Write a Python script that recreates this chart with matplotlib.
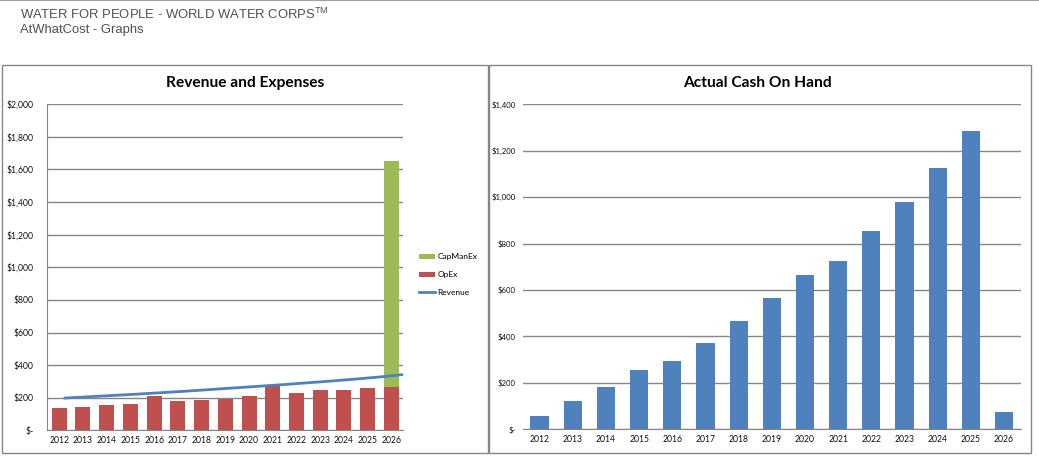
import matplotlib
matplotlib.use("Agg")
import matplotlib.pyplot as plt
import numpy as np
from matplotlib.patches import Rectangle
from matplotlib.lines import Line2D

years = ["2012", "2013", "2014", "2015", "2016", "2017", "2018", "2019",
         "2020", "2021", "2022", "2023", "2024", "2025", "2026"]
opex = [135, 142, 154, 160, 209, 178, 185, 191, 209, 271, 228, 246, 246, 258, 265]
capmanex = [0, 0, 0, 0, 0, 0, 0, 0, 0, 0, 0, 0, 0, 0, 1390]
revenue = [198, 206, 214, 222, 231, 240, 250, 260, 270, 280, 291, 302, 314, 327, 342]
cash = [57, 122, 182, 256, 294, 372, 467, 566, 665, 725, 853, 978, 1124, 1283, 75]

left_ticks = list(range(0, 2001, 200))
right_ticks = list(range(0, 1401, 200))

W, H = 1039, 461
fig = plt.figure(figsize=(W / 100, H / 100), dpi=100)

TICKFONT = "Lato"
GRID = "#868686"
C_OPEX = "#C0504D"
C_CAP = "#9BBB59"
C_BLUE = "#4F81BD"


def fx(px):
    return px / W


def fy(py):
    return 1 - py / H


def money(v):
    return "$-" if v == 0 else "${:,.0f}".format(v)


# top rule
fig.add_artist(Line2D([0, 1], [fy(0.5), fy(0.5)], transform=fig.transFigure,
                      color="#a0a0a0", lw=1.5))
# header
fig.text(fx(20), fy(14), "WATER FOR PEOPLE - WORLD WATER CORPS$^{\\mathregular{TM}}$",
         family="Liberation Sans", fontsize=9.4, color="#505050", va="center", ha="left")
fig.text(fx(20), fy(30), "AtWhatCost - Graphs",
         family="Liberation Sans", fontsize=9.4, color="#505050", va="center", ha="left")

# panel boxes
for (x0, y0, x1, y1) in [(2, 65, 488, 453), (489, 65, 1031, 453)]:
    fig.add_artist(Rectangle((fx(x0), fy(y1)), fx(x1) - fx(x0), fy(y0) - fy(y1),
                             transform=fig.transFigure, fill=False,
                             edgecolor=GRID, lw=1))

x = np.arange(len(years))

# ---------- left chart ----------
axl = fig.add_axes([fx(47.3), fy(430.3), fx(403.3) - fx(47.3), fy(104.3) - fy(430.3)])
axl.bar(x, opex, width=0.63, color=C_OPEX, label="OpEx", zorder=2)
axl.bar(x, capmanex, width=0.63, bottom=opex, color=C_CAP, label="CapManEx", zorder=2)
xr = np.linspace(0.25, 14.5, len(revenue))
axl.plot(xr, revenue, color=C_BLUE, lw=2, label="Revenue", zorder=3)
axl.set_xlim(-0.5, len(years) - 0.5)
axl.set_ylim(0, 2000)
axl.set_yticks(left_ticks)
axl.set_yticklabels([money(v) for v in left_ticks])
axl.set_xticks(x)
axl.set_xticklabels(years)
axl.yaxis.grid(True, color=GRID, lw=1)
axl.set_axisbelow(True)
for s in ["top", "right"]:
    axl.spines[s].set_visible(False)
for s in ["left", "bottom"]:
    axl.spines[s].set_color(GRID)
axl.tick_params(axis="both", length=0, labelsize=6.2, labelcolor="#111111")
axl.tick_params(axis="y", pad=10)
axl.tick_params(axis="x", pad=4)
for lab in axl.get_xticklabels() + axl.get_yticklabels():
    lab.set_family(TICKFONT)
fig.text(fx(245), fy(83), "Revenue and Expenses", family="Lato", fontweight="bold",
         fontsize=11.2, ha="center", va="center", color="black")

handles, labels = axl.get_legend_handles_labels()
order = [labels.index("CapManEx"), labels.index("OpEx"), labels.index("Revenue")]
leg = fig.legend([handles[i] for i in order], [labels[i] for i in order],
                 loc="upper left", bbox_to_anchor=(fx(419), fy(253.5)),
                 frameon=False, prop={"family": TICKFONT, "size": 6},
                 handlelength=1.9, handleheight=0.6, handletextpad=0.3,
                 labelspacing=1.3, borderaxespad=0, borderpad=0)

# ---------- right chart ----------
axr = fig.add_axes([fx(523), fy(429.3), fx(1020.6) - fx(523), fy(104.3) - fy(429.3)])
axr.bar(x, cash, width=0.55, color=C_BLUE, zorder=2)
axr.set_xlim(-0.5, len(years) - 0.5)
axr.set_ylim(0, 1400)
axr.set_yticks(right_ticks)
axr.set_yticklabels([money(v) for v in right_ticks])
axr.set_xticks(x)
axr.set_xticklabels(years)
axr.yaxis.grid(True, color=GRID, lw=1)
axr.set_axisbelow(True)
for s in ["top", "right", "left"]:
    axr.spines[s].set_visible(False)
axr.spines["bottom"].set_color(GRID)
axr.tick_params(axis="both", length=0, labelsize=6.2, labelcolor="#111111")
axr.tick_params(axis="y", pad=5, labelsize=5.6)
axr.tick_params(axis="x", pad=4)
for lab in axr.get_xticklabels() + axr.get_yticklabels():
    lab.set_family(TICKFONT)
fig.text(fx(757), fy(83), "Actual Cash On Hand", family="Lato", fontweight="bold",
         fontsize=11.2, ha="center", va="center", color="black")

fig.savefig("out.png", dpi=100)
